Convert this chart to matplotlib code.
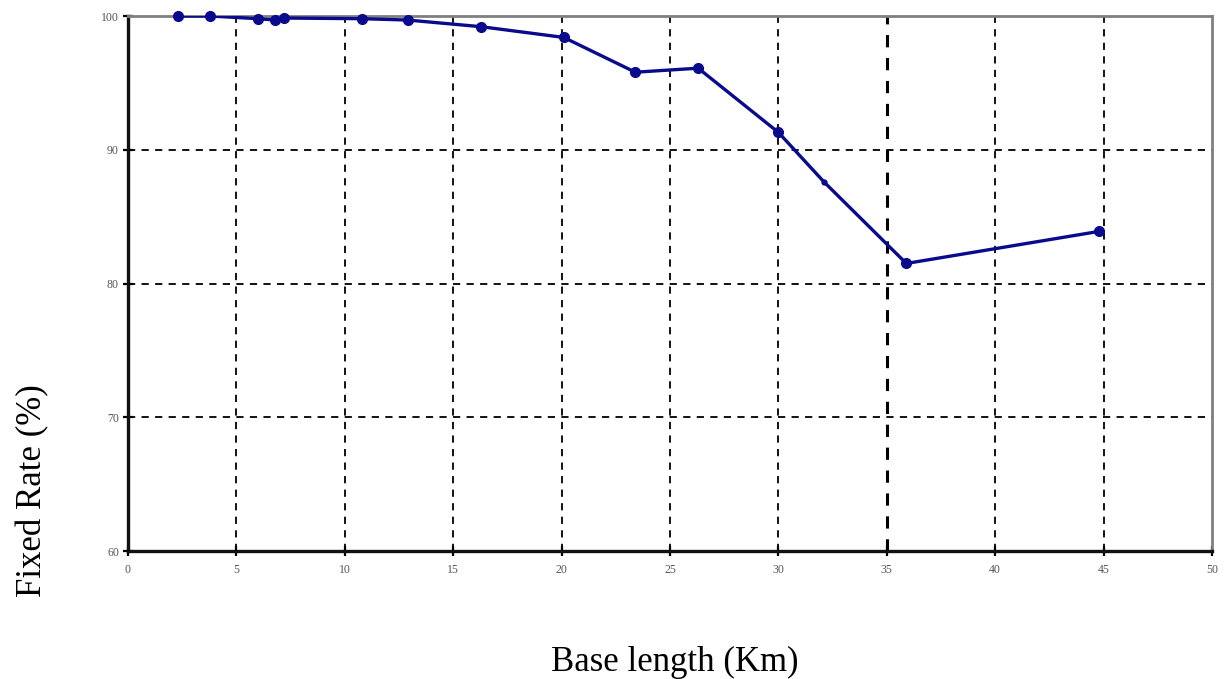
import matplotlib
matplotlib.use("Agg")
import matplotlib.pyplot as plt

# Data
base_length_km = [2.3, 3.8, 6.0, 6.8, 7.2, 10.8, 12.9, 16.3, 20.1, 23.4, 26.3, 30.0, 32.1, 35.9, 44.8]
fixed_rate_pct = [100.0, 100.0, 99.8, 99.7, 99.85, 99.8, 99.7, 99.2, 98.4, 95.8, 96.1, 91.3, 87.6, 81.5, 83.9]
small_marker = [False]*12 + [True] + [False]*2

x_ticks = [0, 5, 10, 15, 20, 25, 30, 35, 40, 45, 50]
y_ticks = [60, 70, 80, 90, 100]

plt.rcParams['font.family'] = ['Liberation Serif', 'DejaVu Serif']

fig = plt.figure(figsize=(12.28, 6.79), dpi=100)
ax = fig.add_axes([0.1042, 0.1885, 0.8828, 0.7879])

line_color = '#0A0A8C'
ax.plot(base_length_km, fixed_rate_pct, color=line_color, lw=2.4, zorder=3)
xs_big = [x for x, s in zip(base_length_km, small_marker) if not s]
ys_big = [y for y, s in zip(fixed_rate_pct, small_marker) if not s]
xs_small = [x for x, s in zip(base_length_km, small_marker) if s]
ys_small = [y for y, s in zip(fixed_rate_pct, small_marker) if s]
ax.plot(xs_big, ys_big, 'o', color=line_color, ms=7, zorder=4, clip_on=False)
ax.plot(xs_small, ys_small, 'o', color=line_color, ms=3.5, zorder=4)

ax.set_xlim(0, 50)
ax.set_ylim(60, 100)
ax.set_xticks(x_ticks)
ax.set_yticks(y_ticks)
ax.set_xticklabels([str(t) for t in x_ticks])
ax.set_yticklabels([str(t) for t in y_ticks])

ax.grid(True, color='black', linestyle=(0, (4, 3.5)), linewidth=1.3)
gls = ax.xaxis.get_gridlines()
gls[7].set_linewidth(2.2)
gls[0].set_visible(False)
gls[-1].set_visible(False)
ygls = ax.yaxis.get_gridlines()
ygls[0].set_visible(False)
ygls[-1].set_visible(False)

ax.tick_params(axis='both', direction='inout', length=7, width=1.6, color='black',
               labelsize=8.5, labelcolor='#555555')
ax.tick_params(axis='x', pad=6)
ax.tick_params(axis='y', pad=3)

ax.spines['left'].set_linewidth(2.4)
ax.spines['left'].set_color('#111111')
ax.spines['bottom'].set_linewidth(2.4)
ax.spines['bottom'].set_color('#111111')
ax.spines['top'].set_linewidth(2.0)
ax.spines['top'].set_color('#808080')
ax.spines['right'].set_linewidth(2.0)
ax.spines['right'].set_color('#808080')

fig.text(0.027, 0.277, 'Fixed Rate (%)', rotation=90, ha='center', va='center', fontsize=25)
fig.text(0.5497, 0.024, 'Base length (Km)', ha='center', va='center', fontsize=25)

fig.savefig('out.png', dpi=100)
